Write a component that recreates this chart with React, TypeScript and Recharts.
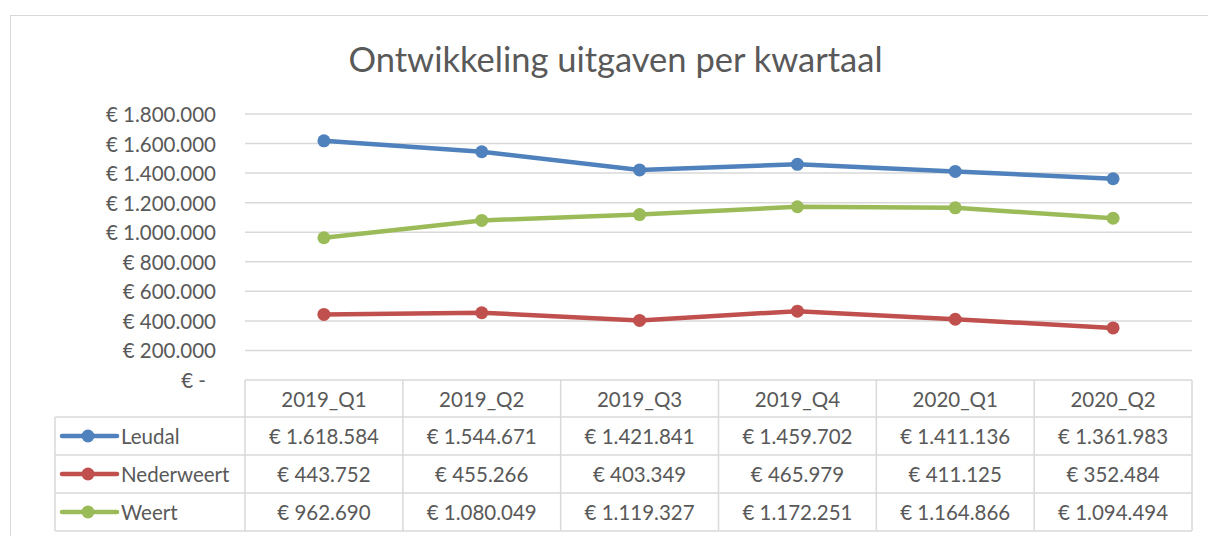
import { CartesianGrid, Line, LineChart, XAxis, YAxis } from "recharts";

const quarters = ["2019_Q1", "2019_Q2", "2019_Q3", "2019_Q4", "2020_Q1", "2020_Q2"];
const leudal = [1618584, 1544671, 1421841, 1459702, 1411136, 1361983];
const nederweert = [443752, 455266, 403349, 465979, 411125, 352484];
const weert = [962690, 1080049, 1119327, 1172251, 1164866, 1094494];
const yTicks = [0, 200000, 400000, 600000, 800000, 1000000, 1200000, 1400000, 1600000, 1800000];

const series = [
  { name: "Leudal", values: leudal, color: "#4f81bd" },
  { name: "Nederweert", values: nederweert, color: "#c0504d" },
  { name: "Weert", values: weert, color: "#9bbb59" },
];

const data = quarters.map((quarter, i) => ({
  quarter,
  Leudal: leudal[i],
  Nederweert: nederweert[i],
  Weert: weert[i],
}));

const WIDTH = 1208;
const HEIGHT = 536;
const PLOT_LEFT = 245;
const PLOT_RIGHT = 1192;
const PLOT_TOP = 114;
const PLOT_BOTTOM = 380;
const HEADER_H = 37;
const ROW_H = 38;
const LEGEND_LEFT = 55;
const BORDER = "#d9d9d9";
const TEXT = "#595959";
const FONT = "Lato, 'Open Sans', sans-serif";
const FS = 20.5;

function formatEuro(value: number) {
  if (value === 0) return "€ -";
  return "€ " + String(value).replace(/\B(?=(\d{3})+(?!\d))/g, ".");
}

function YTick(props: any) {
  const { x, y, payload } = props;
  const shift = payload.value === 0 ? 10 : 0;
  return (
    <text x={x - shift} y={y} textAnchor="end" dominantBaseline="central" fill={TEXT} fontSize={FS}>
      {formatEuro(payload.value)}
    </text>
  );
}

function TableColumn(props: any) {
  const { x, y } = props;
  const index = props.index ?? props.payload?.index ?? 0;
  const colW = (PLOT_RIGHT - PLOT_LEFT) / quarters.length;
  const left = x - colW / 2;
  const right = x + colW / 2;
  const bottom = y + HEADER_H + ROW_H * series.length;
  const rowLines = series.map((_, k) => y + HEADER_H + ROW_H * (k + 1));

  return (
    <g>
      <line x1={right} y1={y} x2={right} y2={bottom} stroke={BORDER} strokeWidth={1.5} />
      {index === 0 && <line x1={left} y1={y} x2={left} y2={bottom} stroke={BORDER} strokeWidth={1.5} />}
      {[y + HEADER_H, ...rowLines].map((ly) => (
        <line key={ly} x1={left} y1={ly} x2={right} y2={ly} stroke={BORDER} strokeWidth={1.5} />
      ))}
      <text x={x} y={y + HEADER_H / 2} textAnchor="middle" dominantBaseline="central" fill={TEXT} fontSize={FS}>
        {quarters[index]}
      </text>
      {series.map((s, k) => (
        <text
          key={s.name}
          x={x}
          y={y + HEADER_H + ROW_H * k + ROW_H / 2}
          textAnchor="middle"
          dominantBaseline="central"
          fill={TEXT}
          fontSize={FS}
        >
          {formatEuro(s.values[index])}
        </text>
      ))}
      {index === 0 && (
        <g>
          <line x1={LEGEND_LEFT} y1={y + HEADER_H} x2={LEGEND_LEFT} y2={bottom} stroke={BORDER} strokeWidth={1.5} />
          {[y + HEADER_H, ...rowLines].map((ly) => (
            <line key={ly} x1={LEGEND_LEFT} y1={ly} x2={left} y2={ly} stroke={BORDER} strokeWidth={1.5} />
          ))}
          {series.map((s, k) => {
            const cy = y + HEADER_H + ROW_H * k + ROW_H / 2;
            return (
              <g key={s.name}>
                <line x1={62} y1={cy} x2={117} y2={cy} stroke={s.color} strokeWidth={4.5} strokeLinecap="round" />
                <circle cx={88} cy={cy} r={6.5} fill={s.color} />
                <text x={121} y={cy} dominantBaseline="central" fill={TEXT} fontSize={FS}>
                  {s.name}
                </text>
              </g>
            );
          })}
        </g>
      )}
    </g>
  );
}

export default function App() {
  return (
    <div
      style={{
        position: "fixed",
        left: 0,
        top: 0,
        width: WIDTH,
        height: HEIGHT,
        overflow: "hidden",
        background: "#ffffff",
        fontFamily: FONT,
      }}
    >
      <div
        style={{
          position: "absolute",
          left: 10,
          top: 15,
          width: 1240,
          height: 700,
          border: `1.5px solid ${BORDER}`,
        }}
      />
      <div
        style={{
          position: "absolute",
          left: 0,
          width: 1231,
          top: 39,
          textAlign: "center",
          fontSize: 34.5,
          lineHeight: "40px",
          color: TEXT,
        }}
      >
        Ontwikkeling uitgaven per kwartaal
      </div>
      <div style={{ position: "absolute", left: 0, top: 0 }}>
        <LineChart
          width={WIDTH}
          height={HEIGHT}
          data={data}
          margin={{ top: PLOT_TOP, right: WIDTH - PLOT_RIGHT, bottom: HEIGHT - PLOT_BOTTOM - 152, left: 10 }}
        >
          <CartesianGrid horizontal vertical={false} stroke={BORDER} strokeWidth={1.5} />
          <XAxis
            dataKey="quarter"
            scale="band"
            interval={0}
            height={152}
            axisLine={false}
            tickLine={false}
            tickSize={0}
            tickMargin={0}
            tick={<TableColumn />}
          />
          <YAxis
            domain={[0, 1800000]}
            ticks={yTicks}
            width={PLOT_LEFT - 10}
            axisLine={false}
            tickLine={false}
            tickSize={0}
            tickMargin={29}
            tick={<YTick />}
          />
          {series.map((s) => (
            <Line
              key={s.name}
              dataKey={s.name}
              stroke={s.color}
              strokeWidth={4.5}
              dot={{ r: 6.5, fill: s.color, stroke: s.color, strokeWidth: 0 }}
              activeDot={false}
              isAnimationActive={false}
            />
          ))}
        </LineChart>
      </div>
    </div>
  );
}
